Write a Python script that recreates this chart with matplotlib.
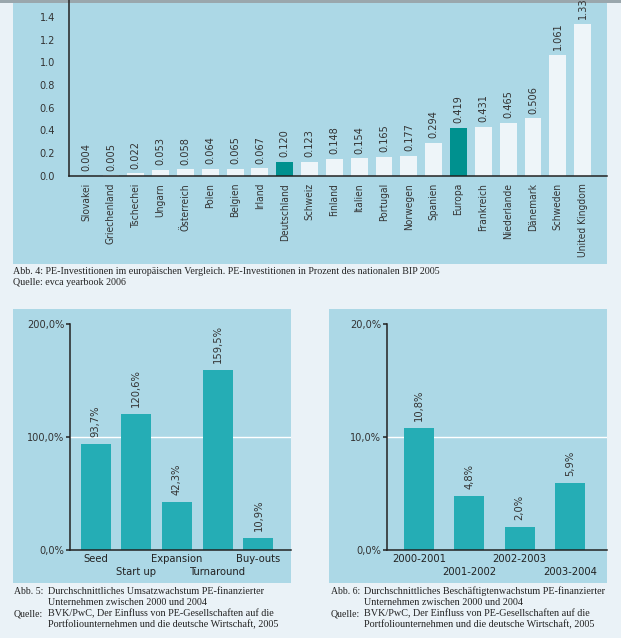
import matplotlib
matplotlib.use("Agg")
import matplotlib.pyplot as plt
from matplotlib.patches import Rectangle
from matplotlib import font_manager

# data
countries = ['Slovakei', 'Griechenland', 'Tschechei', 'Ungarn', 'Österreich', 'Polen',
             'Belgien', 'Irland', 'Deutschland', 'Schweiz', 'Finland', 'Italien',
             'Portugal', 'Norwegen', 'Spanien', 'Europa', 'Frankreich', 'Niederlande',
             'Dänemark', 'Schweden', 'United Kingdom']
pe_invest = [0.004, 0.005, 0.022, 0.053, 0.058, 0.064, 0.065, 0.067, 0.120, 0.123,
             0.148, 0.154, 0.165, 0.177, 0.294, 0.419, 0.431, 0.465, 0.506, 1.061, 1.334]
highlight = ['Deutschland', 'Europa']
yticks1 = [0.0, 0.2, 0.4, 0.6, 0.8, 1.0, 1.2, 1.4]

phases = ['Seed', 'Start up', 'Expansion', 'Turnaround', 'Buy-outs']
umsatz = [93.7, 120.6, 42.3, 159.5, 10.9]
yticks2 = [0, 100, 200]

periods = ['2000-2001', '2001-2002', '2002-2003', '2003-2004']
beschaeftigte = [10.8, 4.8, 2.0, 5.9]
yticks3 = [0, 10, 20]

PAGE = '#eaf2f7'
PANEL = '#acd8e6'
LIGHT = '#eef5f9'
TEAL = '#00918f'
TURQ = '#25adb5'
DARK = '#222222'
serif = ['Liberation Serif', 'DejaVu Serif']

# condensed sans (DejaVu Sans Condensed) if it is installed
cond = [f.fname for f in font_manager.fontManager.ttflist
        if 'Condensed' in f.fname and 'DejaVuSans' in f.fname.replace(' ', '')
        and 'Bold' not in f.fname and 'Oblique' not in f.fname]

def sans(size):
    if cond:
        return dict(fontproperties=font_manager.FontProperties(fname=cond[0], size=size))
    return dict(family='DejaVu Sans', fontsize=size)

W, H = 621, 638
fig = plt.figure(figsize=(W / 100, H / 100), dpi=100, facecolor=PAGE)

def px(x0, y0, x1, y1):
    # pixel box (top-left origin) -> figure fraction rect
    return [x0 / W, 1 - y1 / H, (x1 - x0) / W, (y1 - y0) / H]

def panel(x0, y0, x1, y1, color=PANEL):
    l, b, w, h = px(x0, y0, x1, y1)
    fig.patches.append(Rectangle((l, b), w, h, transform=fig.transFigure,
                                 facecolor=color, edgecolor='none', zorder=-10))

def style(ax):
    ax.set_facecolor('none')
    ax.set_zorder(1)
    for s in ['top', 'right']:
        ax.spines[s].set_visible(False)
    for s in ['left', 'bottom']:
        ax.spines[s].set_color(DARK)
        ax.spines[s].set_linewidth(1.1)

panel(13, -5, 607, 264)
panel(13, 309, 291, 583)
panel(329, 309, 607, 583)
panel(0, 0, 621, 3, color='#9aa7ad')   # shadow at the cut top edge

# chart 1
ax1 = fig.add_axes(px(69, -6, 607, 176))
style(ax1)
colors = [TEAL if c in highlight else LIGHT for c in countries]
x1 = range(len(countries))
ax1.bar(x1, pe_invest, width=0.68, color=colors)
for i, v in enumerate(pe_invest):
    ax1.annotate('%.3f' % v, (i, v), xytext=(0, 3.5), textcoords='offset points',
                 rotation=90, ha='center', va='bottom', color='#333333',
                 annotation_clip=False, **sans(7.8))
ax1.set_xlim(-0.69, 20.98)
ax1.set_ylim(0, 1.6)
ax1.set_yticks(yticks1)
ax1.set_yticklabels(['%.1f' % t for t in yticks1], color='#333333', **sans(7.8))
ax1.set_xticks(list(x1))
ax1.set_xticklabels(countries, rotation=90, color='#333333', **sans(7.3))
ax1.tick_params(axis='y', length=0, pad=10)
ax1.tick_params(axis='x', length=0, pad=5)

fig.text(13 / W, 1 - 272 / H, 'Abb. 4: PE-Investitionen im europäischen Vergleich. '
         'PE-Investitionen in Prozent des nationalen BIP 2005',
         family=serif, fontsize=7.2, va='center', color='#222222')
fig.text(13 / W, 1 - 283 / H, 'Quelle: evca yearbook 2006',
         family=serif, fontsize=7.2, va='center', color='#222222')

# chart 2 and 3
def lower_chart(box, labels, values, yticks, width, xlim):
    ax = fig.add_axes(px(*box))
    style(ax)
    xs = range(len(labels))
    ax.bar(xs, values, width=width, color=TURQ, zorder=2)
    ax.axhline(yticks[1], color='white', lw=1.0, zorder=1)
    for i, v in enumerate(values):
        ax.annotate(('%.1f%%' % v).replace('.', ','), (i, v), xytext=(0, 5),
                    textcoords='offset points', rotation=90, ha='center', va='bottom',
                    color='#333333', annotation_clip=False, **sans(8))
    ax.set_xlim(*xlim)
    ax.set_ylim(yticks[0], yticks[-1])
    ax.set_yticks(yticks)
    ax.set_yticklabels([('%.1f%%' % t).replace('.', ',') for t in yticks],
                       color='#333333', **sans(7.8))
    ax.set_xticks(list(xs))
    ax.set_xticklabels(labels, color='#222222', **sans(8))
    ax.tick_params(axis='y', length=3, width=1.1, color=DARK, pad=1)
    ax.tick_params(axis='x', length=0, pad=3)
    for t in ax.xaxis.get_major_ticks()[1::2]:
        t.set_pad(12)
    return ax

lower_chart((70, 324, 291, 550), phases, umsatz, yticks2, 0.74, (-0.63, 4.8))
lower_chart((387, 324, 607, 550), periods, beschaeftigte, yticks3, 0.6, (-0.63, 3.73))

def caption(x, xt, lines):
    ys = [591.5, 602.5, 613.5, 624.5]
    for (head, txt), y in zip(lines, ys):
        if head:
            fig.text(x / W, 1 - y / H, head, family=serif, fontsize=7.0,
                     va='center', color='#222222')
        fig.text(xt / W, 1 - y / H, txt, family=serif, fontsize=7.3,
                 va='center', color='#222222')

src1 = 'BVK/PwC, Der Einfluss von PE-Gesellschaften auf die'
src2 = 'Portfoliounternehmen und die deutsche Wirtschaft, 2005'
caption(14, 47.5, [('Abb. 5:', 'Durchschnittliches Umsatzwachstum PE-finanzierter'),
                   ('', 'Unternehmen zwischen 2000 und 2004'),
                   ('Quelle:', src1), ('', src2)])
caption(331, 364, [('Abb. 6:', 'Durchschnittliches Beschäftigtenwachstum PE-finanzierter'),
                   ('', 'Unternehmen zwischen 2000 und 2004'),
                   ('Quelle:', src1), ('', src2)])

fig.savefig('out.png', dpi=100, facecolor=PAGE)
